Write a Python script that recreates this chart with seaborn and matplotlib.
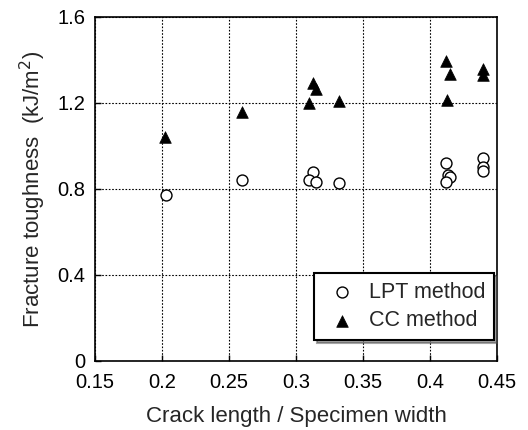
import matplotlib
matplotlib.use("Agg")
import matplotlib.pyplot as plt
import seaborn as sns
import pandas as pd

lpt_x = [0.2027, 0.260, 0.3125, 0.3097, 0.315, 0.332, 0.4124, 0.4137, 0.415, 0.4124, 0.4393, 0.4393, 0.4393]
lpt_y = [0.771, 0.843, 0.881, 0.843, 0.834, 0.826, 0.922, 0.865, 0.854, 0.834, 0.943, 0.904, 0.884]
cc_x = [0.2025, 0.260, 0.3125, 0.315, 0.3097, 0.3323, 0.4124, 0.415, 0.4127, 0.4398, 0.4398]
cc_y = [1.043, 1.157, 1.294, 1.264, 1.199, 1.211, 1.397, 1.333, 1.214, 1.357, 1.329]
x_ticks = [0.15, 0.2, 0.25, 0.3, 0.35, 0.4, 0.45]
x_tick_labels = ["0.15", "0.2", "0.25", "0.3", "0.35", "0.4", "0.45"]
y_ticks = [0, 0.4, 0.8, 1.2, 1.6]
y_tick_labels = ["0", "0.4", "0.8", "1.2", "1.6"]

sns.set_style("white")
plt.rcParams['font.family'] = ['Liberation Sans', 'DejaVu Sans']

fig = plt.figure(figsize=(5.28, 4.30), dpi=100)
ax = fig.add_axes([0.18, 0.1605, 0.761, 0.80])

df_lpt = pd.DataFrame({"x": lpt_x, "y": lpt_y})
df_cc = pd.DataFrame({"x": cc_x, "y": cc_y})

sns.scatterplot(data=df_lpt, x="x", y="y", ax=ax, marker="o", s=62,
                facecolor="white", edgecolor="black", linewidth=1.0,
                label="LPT method", zorder=3)
sns.scatterplot(data=df_cc, x="x", y="y", ax=ax, marker="^", s=70,
                color="black", edgecolor="black", linewidth=0.5,
                label="CC method", zorder=4)

ax.set_xlim(0.15, 0.45)
ax.set_ylim(0, 1.6)
ax.set_xticks(x_ticks)
ax.set_xticklabels(x_tick_labels)
ax.set_yticks(y_ticks)
ax.set_yticklabels(y_tick_labels)
ax.grid(True, color="black", linestyle=(0, (1.5, 1.5)), linewidth=0.8)
ax.set_axisbelow(True)
for sp in ax.spines.values():
    sp.set_color("black")
    sp.set_linewidth(1.2)
ax.tick_params(direction="in", length=4, width=1, labelsize=14.5, colors="black",
               bottom=True, left=True)
ax.tick_params(axis="x", pad=9)
ax.tick_params(axis="y", pad=7)
ax.set_xlabel("Crack length / Specimen width", fontsize=16, labelpad=10)
ax.set_ylabel("Fracture toughness  (kJ/m$^2$)", fontsize=16, labelpad=7)

leg = ax.legend(loc="lower right", bbox_to_anchor=(0.993, 0.061), borderaxespad=0,
                fontsize=15.5, frameon=True, fancybox=False, shadow=True,
                edgecolor="black", framealpha=1, handletextpad=0.35,
                borderpad=0.4, labelspacing=0.35, handlelength=1.8)
leg.get_frame().set_linewidth(1.5)

fig.savefig("out.png", dpi=100)
